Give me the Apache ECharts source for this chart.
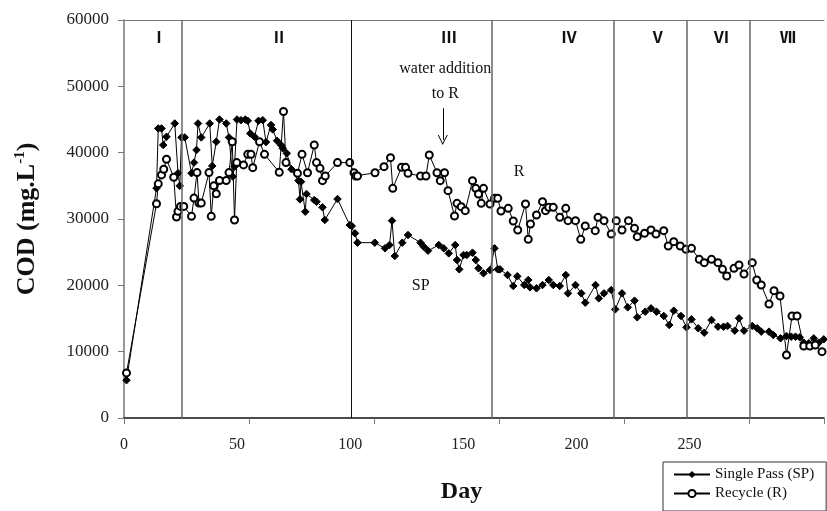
<!DOCTYPE html>
<html>
<head>
<meta charset="utf-8">
<script src="https://cdn.jsdelivr.net/npm/echarts@6/dist/echarts.min.js"></script>
<style>
  html, body { margin: 0; padding: 0; background: #fff; }
  #chart { width: 827px; height: 511px; }
</style>
</head>
<body>
<div id="chart"></div>
<script>
// [day, COD mg/L]
const singlePass = [
  [1, 5700], [13.0, 34650], [13.7, 43650], [15.0, 43650], [15.7, 41150], [17.0, 42400],
  [20.3, 44400], [21.6, 36900], [22.3, 35000], [23.0, 42300], [24.3, 42300], [27.0, 36900],
  [28.0, 38500], [29.0, 40400], [29.6, 44400], [30.9, 42300], [34.3, 44400], [35.3, 38000],
  [36.9, 41650], [38.2, 45000], [40.9, 44400], [42.0, 42300], [43.5, 36400], [44.2, 37900],
  [45.2, 45000], [46.8, 44900], [48.5, 45000], [49.5, 44800], [50.5, 42900], [52.2, 42400],
  [53.8, 44800], [55.5, 44900], [56.8, 41600], [58.8, 44170], [59.5, 43500], [61.2, 41800],
  [62.8, 41150], [63.5, 40650], [65.1, 39900], [67.0, 37500], [69.8, 35780], [70.4, 32960],
  [70.8, 35620], [72.5, 31100], [73.0, 33770], [76.1, 32860], [77.0, 32610], [79.4, 31760],
  [80.3, 29850], [85.4, 33010], [90.3, 29090], [91.1, 28940], [92.4, 27840], [93.4, 26430],
  [100.3, 26430], [104.4, 25580], [106.2, 26080], [107.2, 29750], [108.3, 24420], [111.3, 26430],
  [113.6, 27590], [118.6, 26430], [119.9, 25830], [121.6, 25220], [125.9, 26080], [127.9, 25580],
  [129.9, 24820], [132.5, 26080], [133.2, 23820], [134.1, 22410], [135.8, 24570], [137.1, 24570],
  [139.4, 24920], [140.7, 23820], [141.8, 22560], [143.8, 21810], [146.4, 22310], [148.2, 25580],
  [149.5, 22410], [150.4, 22410], [153.4, 21560], [155.7, 19900], [157.3, 21360], [160.1, 20050],
  [161.7, 20800], [162.4, 19700], [165.0, 19550], [167.4, 20050], [169.9, 20800], [171.7, 20050],
  [174.3, 19900], [176.7, 21560], [177.6, 18790], [180.6, 20050], [182.9, 18790], [184.5, 17390],
  [188.6, 20050], [189.9, 18040], [192.0, 18790], [194.9, 19300], [196.5, 16380], [199.2, 18790],
  [201.5, 16680], [204.2, 17690], [205.3, 15180], [208.5, 16030], [210.8, 16530], [213.0, 16030],
  [215.9, 15380], [218.1, 14020], [219.9, 16180], [222.8, 15380], [225.0, 13670], [227.0, 14870],
  [229.7, 13520], [232.1, 12860], [235.0, 14770], [237.6, 13770], [239.8, 13770], [241.4, 13870],
  [244.3, 13170], [246.0, 15030], [248.0, 13170], [251.3, 13870], [253.3, 13520], [254.9, 13020],
  [258.0, 13020], [259.7, 12510], [262.6, 12010], [265.0, 12360], [266.9, 12260], [268.6, 12260],
  [270.3, 12160], [271.9, 11360], [273.9, 11260], [275.9, 12010], [277.9, 11360], [279.9, 11860]
];

const recycle = [
  [1, 6800], [13.0, 32300], [13.7, 35300], [15.0, 36650], [15.9, 37500], [17.0, 39000],
  [19.9, 36300], [21.0, 30300], [21.6, 31150], [22.6, 31900], [23.9, 31900], [27.0, 30400],
  [28.0, 33150], [29.2, 37000], [30.0, 32400], [30.9, 32400], [34.0, 37000], [34.9, 30400],
  [35.9, 35000], [36.9, 33800], [38.2, 35800], [40.9, 35800], [42.0, 37000], [43.3, 41650],
  [44.2, 29850], [45.1, 38500], [47.8, 38150], [49.5, 39750], [50.8, 39750], [51.5, 37740],
  [54.2, 41650], [56.2, 39750], [62.1, 37040], [63.8, 46200], [64.8, 38500], [69.4, 36880],
  [71.2, 39750], [73.4, 36980], [76.1, 41150], [77.0, 38500], [78.4, 37640], [79.4, 35780],
  [80.5, 36480], [85.4, 38500], [90.3, 38500], [92.0, 36980], [92.7, 36480], [93.4, 36480],
  [100.4, 36980], [104.0, 37890], [106.6, 39250], [107.5, 34620], [111.0, 37790], [112.6, 37790],
  [113.6, 36880], [118.6, 36480], [120.8, 36480], [122.1, 39650], [125.2, 36980], [126.5, 35780],
  [128.2, 36980], [129.6, 34270], [132.2, 30450], [133.2, 32360], [134.9, 31860], [136.5, 31260],
  [139.4, 35780], [140.7, 34620], [141.8, 33770], [142.9, 32360], [143.8, 34620], [146.4, 32260],
  [148.2, 33110], [149.5, 33110], [150.8, 31200], [153.7, 31610], [155.7, 29700], [157.5, 28340],
  [160.6, 32260], [161.7, 26930], [162.6, 29250], [165.0, 30600], [167.4, 32610], [168.6, 31260],
  [169.9, 31760], [171.7, 31760], [174.3, 30250], [176.7, 31610], [177.6, 29750], [180.6, 29750],
  [182.7, 26930], [184.5, 28940], [188.5, 28240], [189.6, 30250], [192.0, 29750], [194.9, 27740],
  [196.9, 29750], [199.2, 28340], [201.8, 29750], [204.2, 28590], [205.3, 27340], [208.2, 27840],
  [210.8, 28340], [212.8, 27740], [215.9, 28240], [217.7, 25930], [219.9, 26580], [222.5, 25930],
  [224.8, 25430], [227.0, 25580], [230.1, 23920], [232.1, 23420], [235.0, 23920], [237.6, 23420],
  [239.4, 22410], [241.1, 21410], [244.0, 22560], [246.0, 23070], [248.0, 21710], [251.3, 23420],
  [253.1, 20800], [254.9, 20050], [258.0, 17190], [260.0, 19200], [262.4, 18390], [265.0, 9500],
  [267.2, 15380], [269.2, 15380], [271.9, 10850], [274.3, 10850], [276.5, 11000], [279.2, 10000]
];

// phase boundaries (day) and phase names
const phaseBounds = [23, 91, 147, 196, 225, 250.3];
const phaseNames = ['Ⅰ', 'Ⅱ', 'Ⅲ', 'Ⅳ', 'Ⅴ', 'Ⅵ', 'Ⅶ'];
const phaseLabelDay = [14, 62, 130, 178, 213.5, 239, 265.5];

const serif = '"Liberation Serif", "Times New Roman", serif';

const chart = echarts.init(document.getElementById('chart'));

const option = {
  animation: false,
  backgroundColor: '#fff',
  grid: { left: 124, top: 20, right: 0, bottom: 93 },
  legend: {
    left: 663, top: 462,
    orient: 'vertical',
    borderColor: '#333', borderWidth: 1,
    padding: [5, 12, 10, 10],
    itemGap: 4, itemWidth: 36, itemHeight: 9,
    textStyle: { fontFamily: serif, fontSize: 15, color: '#111' },
    data: ['Single Pass (SP)', 'Recycle (R)']
  },
  xAxis: [
    {
      type: 'value', min: 0, max: 280, interval: 50,
      name: 'Day', nameLocation: 'middle', nameGap: 62,
      nameTextStyle: { fontFamily: serif, fontSize: 24, fontWeight: 'bold', color: '#111', padding: [0, 25, 0, 0] },
      axisLine: { lineStyle: { color: '#111', width: 1.5 } },
      axisTick: { show: true, length: 6, lineStyle: { color: '#777' } },
      axisLabel: { show: false },
      splitLine: { show: false }
    },
    {
      // tick labels sit on a slightly tighter spacing than the tick marks in the original
      type: 'value', min: 0, max: 309.4, interval: 50, position: 'bottom',
      axisLine: { show: false }, axisTick: { show: false }, splitLine: { show: false },
      axisLabel: {
        margin: 19, fontFamily: serif, fontSize: 16, color: '#222',
        formatter: v => (v <= 250 ? String(v) : '')
      }
    },
    {
      // top frame line
      type: 'value', min: 0, max: 280, position: 'top',
      axisLine: { show: true, lineStyle: { color: '#777', width: 1 } },
      axisTick: { show: false }, axisLabel: { show: false }, splitLine: { show: false }
    }
  ],
  yAxis: {
    type: 'value', min: 0, max: 60000, interval: 10000,
    name: 'COD (mg.L{sup|-1})', nameLocation: 'middle', nameGap: 82,
    nameTextStyle: {
      fontFamily: serif, fontSize: 26, fontWeight: 'bold', color: '#111',
      rich: { sup: { fontFamily: serif, fontSize: 15, fontWeight: 'bold', color: '#111', padding: [0, 0, 14, 0] } }
    },
    axisLine: { show: true, lineStyle: { color: '#777', width: 1.5 } },
    axisTick: { show: true, length: 6, lineStyle: { color: '#777' } },
    axisLabel: { margin: 15, fontFamily: serif, fontSize: 17, color: '#222', formatter: v => String(v) },
    splitLine: { show: false }
  },
  series: [
    {
      name: 'Single Pass (SP)',
      type: 'line',
      data: singlePass,
      symbol: 'diamond', symbolSize: 7.5,
      lineStyle: { color: '#000', width: 1 },
      itemStyle: { color: '#000', borderColor: '#000' },
      markLine: {
        silent: true, symbol: 'none', label: { show: false },
        lineStyle: { color: '#666', width: 1.5, type: 'solid' },
        data: phaseBounds.map(d => ({ xAxis: d, lineStyle: d === 91 ? { color: '#111', width: 1 } : {} }))
      },
      markPoint: {
        silent: true, symbol: 'circle', symbolSize: 0,
        label: { show: true, position: 'inside', fontFamily: '"Noto Sans CJK JP", sans-serif', fontSize: 16, color: '#111', fontWeight: 'bold' },
        data: phaseNames.map((n, i) => ({ coord: [phaseLabelDay[i], 57400], value: n, label: { formatter: n } }))
          .concat([
            { coord: [118.7, 19900], label: { formatter: 'SP', fontFamily: serif, fontSize: 16, fontWeight: 'normal' } }
          ])
      }
    },
    {
      name: 'Recycle (R)',
      type: 'line',
      data: recycle,
      symbol: 'emptyCircle', symbolSize: 7,
      lineStyle: { color: '#000', width: 1 },
      itemStyle: { color: '#000', borderColor: '#000', borderWidth: 1 },
      markLine: {
        silent: true, label: { show: false },
        symbol: ['none', 'path://M5,0 L10,9 L9,9 L5,1.8 L1,9 L0,9 Z'], symbolSize: [10, 10],
        lineStyle: { color: '#000', width: 1, type: 'solid' },
        data: [[{ coord: [127.5, 46700] }, { coord: [127.5, 41900] }]]
      },
      markPoint: {
        silent: true, symbol: 'circle', symbolSize: 0,
        label: { show: true, position: 'inside', fontFamily: serif, fontSize: 16, color: '#111', lineHeight: 25 },
        data: [
          { coord: [128.5, 50700], label: { formatter: 'water addition\nto R' } },
          { coord: [158, 37100], label: { formatter: 'R' } }
        ]
      }
    }
  ]
};

chart.setOption(option);
</script>
</body>
</html>
